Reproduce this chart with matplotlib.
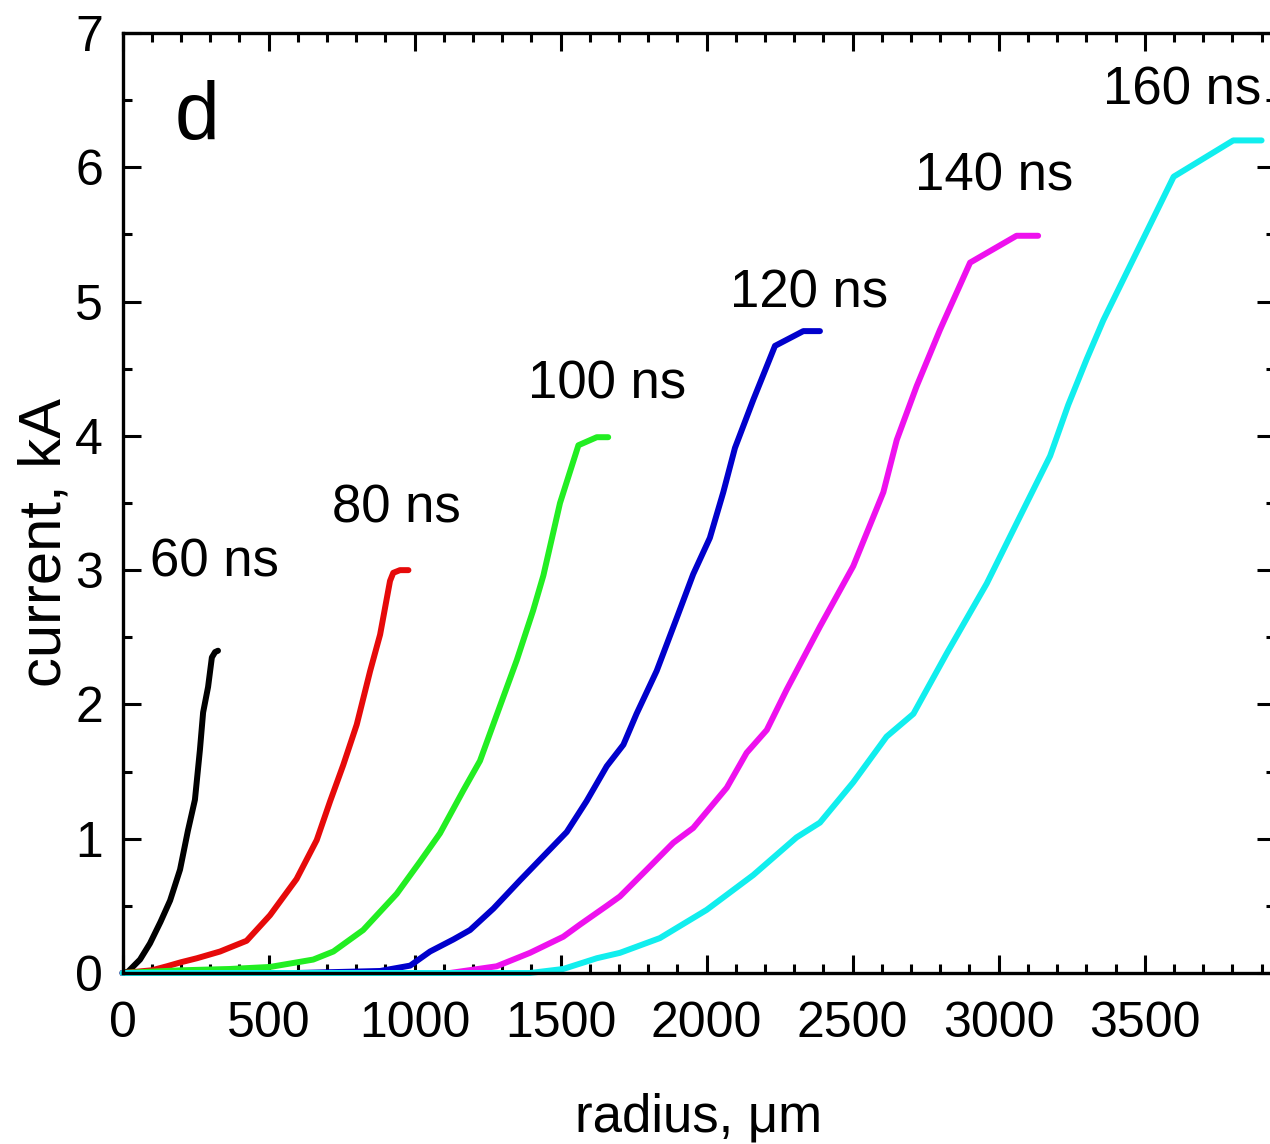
import matplotlib
matplotlib.use("Agg")
import matplotlib.pyplot as plt
from matplotlib.ticker import MultipleLocator

plt.rcParams['font.family'] = ['Liberation Sans', 'DejaVu Sans']

# ---- data ----
labels = ["60 ns", "80 ns", "100 ns", "120 ns", "140 ns", "160 ns"]
colors = ["#000000", "#e60a0a", "#22ee22", "#0000cc", "#ee11ee", "#11eeee"]

r60 = [0, 19, 60, 94, 130, 163, 197, 224, 248, 265, 276, 293, 306, 317, 327]
i60 = [0, 0.01, 0.10, 0.22, 0.38, 0.54, 0.77, 1.06, 1.29, 1.66, 1.94, 2.13, 2.35, 2.39, 2.40]

r80 = [0, 100, 152, 200, 255, 334, 368, 425, 505, 596, 665, 711, 756, 802, 848, 882, 916, 927, 950, 979]
i80 = [0, 0.02, 0.05, 0.08, 0.11, 0.16, 0.19, 0.24, 0.43, 0.70, 0.99, 1.28, 1.55, 1.85, 2.25, 2.52, 2.92, 2.98, 3.0, 3.0]

r100 = [0, 200, 368, 505, 653, 722, 824, 939, 1019, 1087, 1167, 1224, 1281, 1350, 1406, 1441, 1498, 1561, 1624, 1663]
i100 = [0, 0.02, 0.03, 0.045, 0.10, 0.16, 0.32, 0.59, 0.83, 1.04, 1.36, 1.58, 1.92, 2.33, 2.70, 2.96, 3.50, 3.93, 3.99, 3.99]

r120 = [0, 596, 882, 985, 1053, 1133, 1190, 1270, 1361, 1441, 1521, 1589, 1658, 1715, 1760, 1829, 1897,
        1954, 2011, 2057, 2097, 2160, 2234, 2331, 2388]
i120 = [0, 0.0, 0.015, 0.055, 0.16, 0.25, 0.32, 0.48, 0.69, 0.87, 1.05, 1.28, 1.54, 1.70, 1.93, 2.25, 2.64,
        2.97, 3.24, 3.58, 3.91, 4.27, 4.67, 4.78, 4.78]

r140 = [0, 1121, 1281, 1395, 1509, 1566, 1658, 1703, 1795, 1886, 1954, 2069, 2137, 2206, 2274, 2388, 2502,
        2605, 2651, 2719, 2799, 2902, 3061, 3135]
i140 = [0, 0, 0.05, 0.15, 0.27, 0.36, 0.50, 0.57, 0.77, 0.97, 1.08, 1.38, 1.64, 1.81, 2.11, 2.58, 3.03,
        3.58, 3.97, 4.37, 4.79, 5.29, 5.49, 5.49]

r160 = [0, 1395, 1509, 1624, 1703, 1840, 2000, 2160, 2308, 2388, 2502, 2616, 2708, 2822, 2959, 3073, 3176,
        3238, 3301, 3358, 3599, 3803, 3900]
i160 = [0, 0, 0.03, 0.11, 0.15, 0.26, 0.47, 0.73, 1.01, 1.12, 1.42, 1.76, 1.93, 2.38, 2.90, 3.40, 3.85,
        4.23, 4.57, 4.86, 5.93, 6.20, 6.20]

radii = [r60, r80, r100, r120, r140, r160]
currents = [i60, i80, i100, i120, i140, i160]

xticks = [0, 500, 1000, 1500, 2000, 2500, 3000, 3500]
yticks = [0, 1, 2, 3, 4, 5, 6, 7]

# ---- figure ----
fig = plt.figure(figsize=(12.70, 11.44), dpi=100)
ax = fig.add_axes([122.5 / 1270, 1 - 973 / 1144, (1275 - 122.5) / 1270, (973 - 33) / 1144])

for r, c, col in zip(radii, currents, colors):
    ax.plot(r, c, color=col, lw=4.3, solid_capstyle='round', solid_joinstyle='round', clip_on=False)

ax.set_xlim(0, 3946)
ax.set_ylim(0, 7)
ax.set_xticks(xticks)
ax.set_yticks(yticks)
ax.xaxis.set_minor_locator(MultipleLocator(100))
ax.yaxis.set_minor_locator(MultipleLocator(0.5))

ax.tick_params(which='both', direction='in', top=True, right=True, width=2.2, labelsize=36)
ax.tick_params(axis='x', which='major', length=13, pad=20)
ax.tick_params(axis='y', which='major', length=13, pad=14)
ax.tick_params(which='minor', length=6.5)
for s in ax.spines.values():
    s.set_linewidth(2.4)

ax.set_xlabel("radius, μm", fontsize=38, labelpad=33)
ax.set_ylabel("current, kA", fontsize=43, va='center')
ax.yaxis.set_label_coords(-0.067, 0.458)

label_pos = [(94, 3.06), (718, 3.46), (1390, 4.38), (2080, 5.06), (2714, 5.93), (3358, 6.57)]
for (x, y), t in zip(label_pos, labels):
    ax.text(x, y, t, fontsize=38, ha='left', va='center')

ax.text(180, 6.37, "d", fontsize=58, ha='left', va='center')

fig.savefig("out.png", dpi=100)
